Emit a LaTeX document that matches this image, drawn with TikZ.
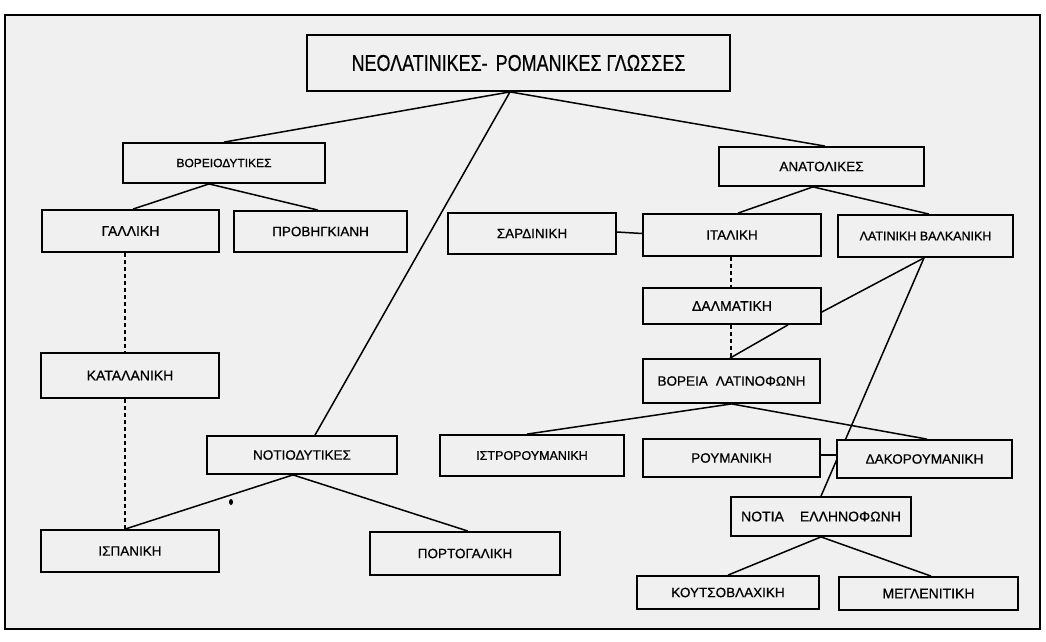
\documentclass[tikz,border=0pt]{standalone}
\usepackage{fontspec}
\usepackage{graphicx}
\setmainfont{Liberation Sans}
\newfontface\labfont[FakeBold=0.6]{Liberation Sans}
\definecolor{paper}{HTML}{F0F0F0}
\pgfdeclarelayer{bgzero}
\pgfdeclarelayer{linelayer}
\pgfsetlayers{bgzero,linelayer,main}
\tikzset{
  box/.style={draw=black, line width=1.8pt, fill=paper, inner sep=0pt, align=center,
    font=\labfont\fontsize{13.5}{15}\selectfont},
  conn/.style={draw=black, line width=1.5pt},
  dconn/.style={draw=black, line width=1.5pt, dash pattern=on 4pt off 3pt},
}
\begin{document}
\begin{tikzpicture}[x=1pt,y=-1pt]
\useasboundingbox (0,0) rectangle (1046,642);
\begin{pgfonlayer}{bgzero}
  \fill[white] (0,0) rectangle (1046,642);
  \draw[line width=2.6pt, fill=paper] (5,15) rectangle (1040,629);
\end{pgfonlayer}

% nodes
\node[box, minimum width=423pt, minimum height=56pt, font=\labfont\fontsize{23}{26}\selectfont] (top) at (518.5,63)
  {\scalebox{0.78}[1]{ΝΕΟΛΑΤΙΝΙΚΕΣ-\hspace{4pt} ΡΟΜΑΝΙΚΕΣ ΓΛΩΣΣΕΣ}};
\node[box, minimum width=202pt, minimum height=40pt, font=\labfont\fontsize{12}{14}\selectfont] (bor) at (224,163) {ΒΟΡΕΙΟΔΥΤΙΚΕΣ};
\node[box, minimum width=177pt, minimum height=42pt, font=\labfont\fontsize{14}{15}\selectfont] (gal) at (130.5,231) {ΓΑΛΛΙΚΗ};
\node[box, minimum width=173pt, minimum height=41pt] (prov) at (320.5,231.5) {ΠΡΟΒΗΓΚΙΑΝΗ};
\node[box, minimum width=178pt, minimum height=45pt, font=\labfont\fontsize{14}{15}\selectfont] (kat) at (130,375.5) {ΚΑΤΑΛΑΝΙΚΗ};
\node[box, minimum width=190pt, minimum height=38pt] (notio) at (302,455) {ΝΟΤΙΟΔΥΤΙΚΕΣ};
\node[box, minimum width=178pt, minimum height=42pt] (isp) at (130,551) {ΙΣΠΑΝΙΚΗ};
\node[box, minimum width=190pt, minimum height=43pt] (port) at (465,553.5) {ΠΟΡΤΟΓΑΛΙΚΗ};
\node[box, minimum width=205pt, minimum height=39pt] (anat) at (821.5,166.5) {ΑΝΑΤΟΛΙΚΕΣ};
\node[box, minimum width=168pt, minimum height=41pt] (sard) at (532,233.5) {ΣΑΡΔΙΝΙΚΗ};
\node[box, minimum width=178pt, minimum height=42pt] (ital) at (732,235) {ΙΤΑΛΙΚΗ};
\node[box, minimum width=175pt, minimum height=42pt, font=\labfont\fontsize{12.5}{15}\selectfont] (latb) at (925.5,236) {ΛΑΤΙΝΙΚΗ ΒΑΛΚΑΝΙΚΗ};
\node[box, minimum width=178pt, minimum height=36pt, font=\labfont\fontsize{14}{15}\selectfont] (dalm) at (732,306) {ΔΑΛΜΑΤΙΚΗ};
\node[box, minimum width=177pt, minimum height=44pt] (vor) at (731.5,381) {ΒΟΡΕΙΑ\hspace{8pt}ΛΑΤΙΝΟΦΩΝΗ};
\node[box, minimum width=184pt, minimum height=41pt, font=\labfont\fontsize{12.5}{15}\selectfont] (istr) at (532,455.5) {ΙΣΤΡΟΡΟΥΜΑΝΙΚΗ};
\node[box, minimum width=177pt, minimum height=38pt] (roum) at (731.5,458) {ΡΟΥΜΑΝΙΚΗ};
\node[box, minimum width=175pt, minimum height=38pt] (dako) at (924.5,459) {ΔΑΚΟΡΟΥΜΑΝΙΚΗ};
\node[box, minimum width=180pt, minimum height=39pt, font=\labfont\fontsize{14}{15}\selectfont] (notia) at (821,516.5) {ΝΟΤΙΑ\hspace{16pt}ΕΛΛΗΝΟΦΩΝΗ};
\node[box, minimum width=182pt, minimum height=33pt] (kouts) at (728,592.5) {ΚΟΥΤΣΟΒΛΑΧΙΚΗ};
\node[box, minimum width=179pt, minimum height=33pt, font=\labfont\fontsize{14}{15}\selectfont] (megl) at (928.5,593.5) {ΜΕΓΛΕΝΙΤΙΚΗ};

\begin{pgfonlayer}{linelayer}
  \draw[conn] ([xshift=-8.5pt]top.south) -- (bor.north);
  \draw[conn] ([xshift=-8.5pt]top.south) -- ([xshift=3.5pt]anat.north);
  \draw[conn] ([xshift=-8.5pt]top.south) -- ([xshift=13pt]notio.north);
  \draw[conn] ([xshift=-15pt]bor.south) -- ([xshift=2.5pt]gal.north);
  \draw[conn] ([xshift=-15pt]bor.south) -- ([xshift=-2.5pt]prov.north);
  \draw[dconn] ([xshift=-5.5pt]gal.south) -- ([xshift=-5pt]kat.north);
  \draw[dconn] ([xshift=-5pt]kat.south) -- ([xshift=-5pt]isp.north);
  \draw[conn] ([xshift=-9pt]notio.south) -- ([xshift=-5pt]isp.north);
  \draw[conn] ([xshift=-9pt]notio.south) -- ([xshift=3pt]port.north);
  \draw[conn] ([xshift=-8.5pt]anat.south) -- ([xshift=6pt]ital.north);
  \draw[conn] ([xshift=-8.5pt]anat.south) -- ([xshift=3.5pt]latb.north);
  \draw[conn] ([yshift=1.5pt]sard.east) -- ([yshift=1.5pt]ital.west);
  \draw[dconn] ([xshift=-1pt]ital.south) -- ([xshift=-1pt]dalm.north);
  \draw[conn] ([xshift=-1.5pt]latb.south) -- ([yshift=-6pt]dalm.east);
  \draw[conn] ([xshift=-1.5pt]latb.south) -- (notia.north);
  \draw[dconn] ([xshift=-1pt]dalm.south) -- ([xshift=-0.5pt]vor.north);
  \draw[conn] ([xshift=56pt]dalm.south) -- ([xshift=-1.5pt]vor.north);
  \draw[conn] (vor.south) -- ([xshift=-5pt]istr.north);
  \draw[conn] (vor.south) -- ([xshift=2.5pt]dako.north);
  \draw[draw=black, line width=2.6pt] ([yshift=3pt]roum.east) -- ([yshift=4pt]dako.west);
  \draw[conn] (notia.south) -- (kouts.north);
  \draw[conn] (notia.south) -- ([xshift=2.5pt]megl.north);
  \fill[black] (231,502) ellipse (2pt and 3pt);
\end{pgfonlayer}
\end{tikzpicture}
\end{document}
